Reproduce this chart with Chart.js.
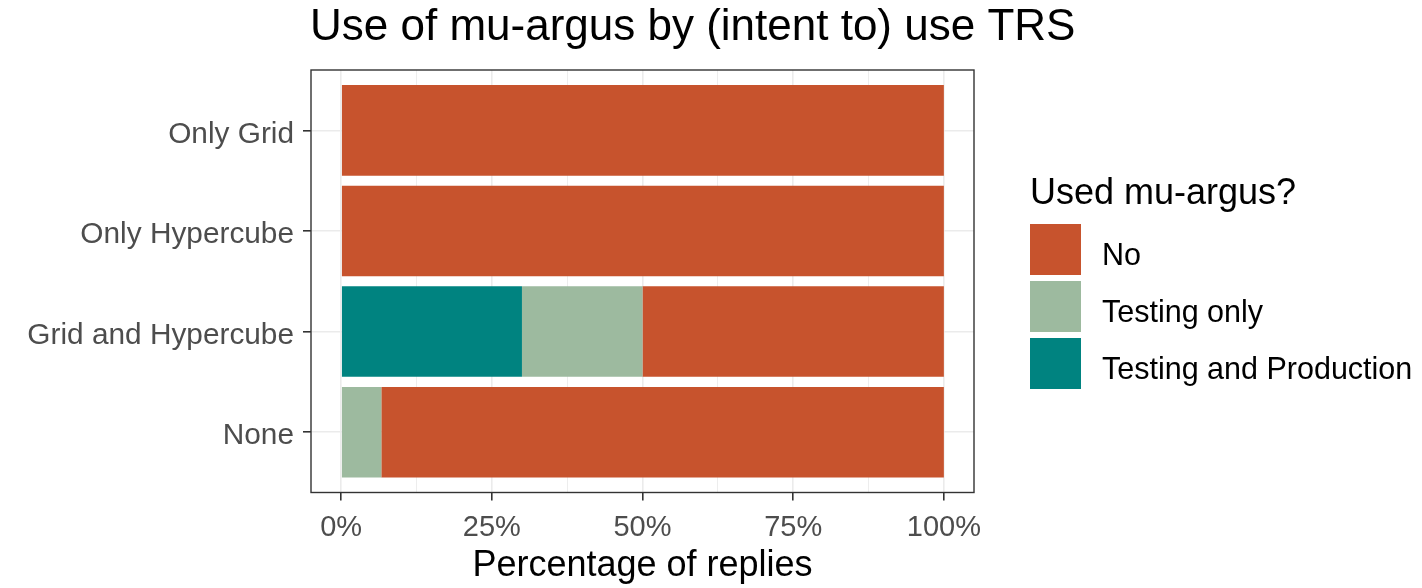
<!DOCTYPE html>
<html>
<head>
<meta charset="utf-8">
<script src="https://cdn.jsdelivr.net/npm/chart.js@4.4.1/dist/chart.umd.min.js"></script>
<style>
  html, body { margin: 0; padding: 0; background: #ffffff; }
  #wrap { width: 1422px; height: 588px; }
</style>
</head>
<body>
<div id="wrap"><canvas id="c" width="1422" height="588"></canvas></div>
<script>
// ---- data ----
const categories = ['Only Grid', 'Only Hypercube', 'Grid and Hypercube', 'None'];
const seriesNames = ['Testing and Production', 'Testing only', 'No'];
const testingProduction = [0, 0, 30, 0];
const testingOnly = [0, 0, 20, 6.67];
const no = [100, 100, 50, 93.33];
const xTickValues = [0, 12.5, 25, 37.5, 50, 62.5, 75, 87.5, 100];
const xTickLabels = ['0%', '', '25%', '', '50%', '', '75%', '', '100%'];
const chartTitle = 'Use of mu-argus by (intent to) use TRS';
const legendTitle = 'Used mu-argus?';

const colors = { 'Testing and Production': '#008380', 'Testing only': '#9DBA9F', 'No': '#C7532D' };
const FONT = '"Liberation Sans", Arial, sans-serif';
Chart.defaults.font.family = FONT;

const seriesValues = [testingProduction, testingOnly, no];
const datasets = seriesNames.map((name, k) => ({
  label: name,
  data: seriesValues[k].map((v, i) => ({ x: v, y: i })),
  backgroundColor: colors[name],
  borderWidth: 0,
  barPercentage: 0.9,
  categoryPercentage: 1.0
}));

const framePlugin = {
  id: 'frameLegend',
  afterDatasetsDraw(chart) {
    const { ctx, chartArea: a } = chart;
    ctx.save();
    ctx.strokeStyle = '#333333';
    ctx.lineWidth = 1.4;
    ctx.strokeRect(a.left, a.top, a.right - a.left, a.bottom - a.top);
    ctx.restore();
  },
  afterDraw(chart) {
    const ctx = chart.ctx;
    const a = chart.chartArea;
    ctx.save();
    ctx.textAlign = 'left';
    ctx.textBaseline = 'alphabetic';
    // chart title
    ctx.fillStyle = '#000000';
    ctx.font = '44px ' + FONT;
    ctx.fillText(chartTitle, a.left - 1, 40);
    // legend
    ctx.font = '36px ' + FONT;
    ctx.fillText(legendTitle, 1030, 204);
    const items = chart.data.datasets.slice().reverse();
    items.forEach((ds, i) => {
      const y0 = 224 + i * 57;
      ctx.fillStyle = ds.backgroundColor;
      ctx.fillRect(1030, y0, 51, 51);
      ctx.fillStyle = '#000000';
      ctx.font = '30.5px ' + FONT;
      ctx.fillText(ds.label, 1102, y0 + 41);
    });
    ctx.restore();
  }
};

new Chart(document.getElementById('c'), {
  type: 'bar',
  data: { datasets },
  options: {
    responsive: false,
    animation: false,
    indexAxis: 'y',
    layout: { padding: { left: 0, right: 448, top: 70, bottom: 0 } },
    plugins: {
      legend: { display: false },
      tooltip: { enabled: false },
      title: { display: false }
    },
    scales: {
      x: {
        type: 'linear',
        stacked: true,
        min: -5,
        max: 105,
        afterBuildTicks: (s) => { s.ticks = xTickValues.map(v => ({ value: v })); },
        afterFit: (s) => { s.height = 95.5; },
        border: { display: false },
        grid: {
          color: '#EBEBEB',
          lineWidth: (ctx) => (ctx.tick && ctx.tick.value % 25 === 0) ? 1.6 : 0.9,
          tickColor: (ctx) => (ctx.tick && ctx.tick.value % 25 === 0) ? '#333333' : 'rgba(0,0,0,0)',
          tickWidth: 1.6,
          tickLength: 8
        },
        ticks: {
          autoSkip: false,
          maxRotation: 0,
          color: '#4D4D4D',
          font: { size: 29 },
          padding: 10,
          callback: (v) => xTickLabels[xTickValues.indexOf(v)]
        },
        title: {
          display: true,
          text: 'Percentage of replies',
          color: '#000000',
          font: { size: 36 },
          padding: { top: 0, bottom: 0 }
        }
      },
      y: {
        type: 'linear',
        stacked: true,
        reverse: true,
        offset: false,
        min: -0.6,
        max: 3.6,
        afterBuildTicks: (s) => { s.ticks = categories.map((c, i) => ({ value: i })); },
        afterFit: (s) => { s.width = 311; },
        border: { display: false },
        grid: {
          offset: false,
          color: '#EBEBEB',
          lineWidth: 1.6,
          tickColor: '#333333',
          tickWidth: 1.6,
          tickLength: 8
        },
        ticks: {
          autoSkip: false,
          color: '#4D4D4D',
          font: { size: 29.8 },
          padding: 9,
          labelOffset: 4,
          callback: (v) => categories[v]
        }
      }
    }
  },
  plugins: [framePlugin]
});
</script>
</body>
</html>
